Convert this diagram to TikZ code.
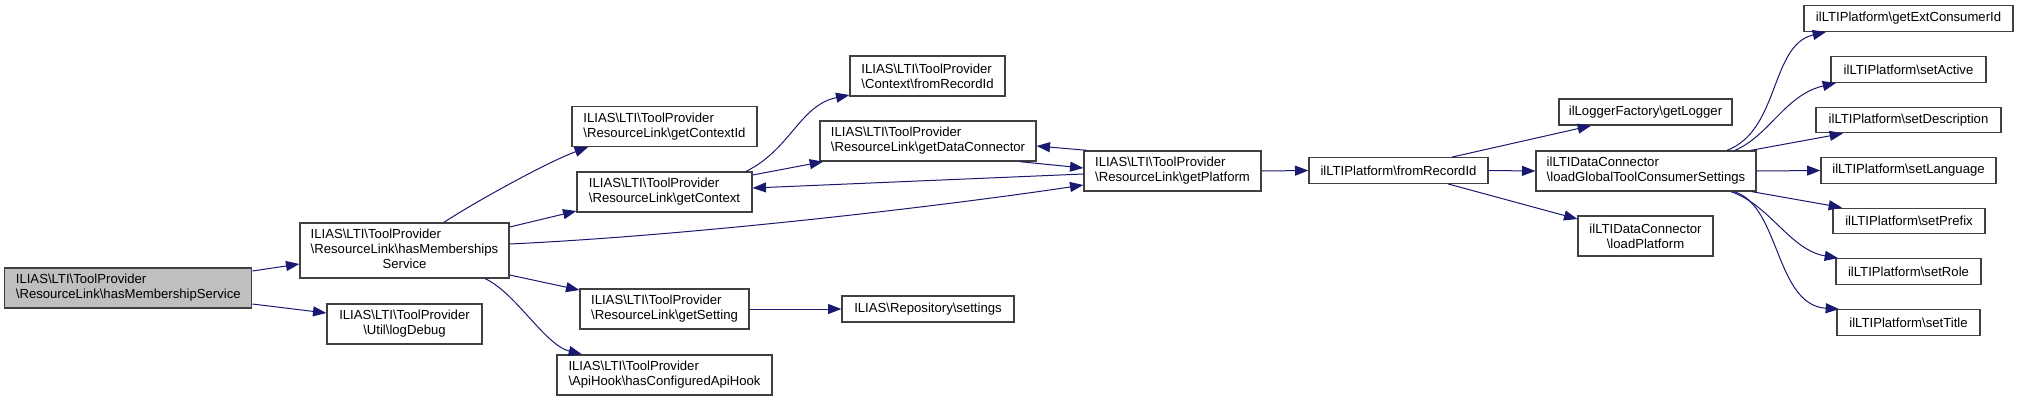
\documentclass[tikz,border=0pt]{standalone}
\usepackage{fontspec}
\setmainfont{Liberation Sans}
\usetikzlibrary{arrows.meta}
\newcommand{\bsl}{\textbackslash}
\definecolor{edgeblue}{HTML}{191970}
\definecolor{boxline}{HTML}{404040}
\definecolor{rootfill}{HTML}{BFBFBF}
\begin{document}
\begin{tikzpicture}[x=0.75pt,y=-0.75pt,
  box/.style={draw=boxline, line width=1pt, fill=white, rectangle, inner sep=0pt,
    font=\fontsize{9.85}{11.25}\selectfont, text=black},
  bw/.style={minimum width=#1*0.75pt},
  bh/.style={minimum height=#1*0.75pt},
  edge/.style={draw=edgeblue, line width=0.75pt, -{Triangle[length=10pt,width=7.5pt]}}]
\useasboundingbox (0,0) rectangle (2019,401);
\fill[white] (0,0) rectangle (2019,401);

% column 1
\node[box, fill=rootfill, bw=247, bh=40, align=left] (A) at (128.3,288)
  {ILIAS\bsl LTI\bsl ToolProvider\\\bsl ResourceLink\bsl hasMembershipService};
% column 2
\node[box, bw=209, bh=55] (B) at (404.5,250.5)
  {\begin{tabular}{@{}l@{}}ILIAS\bsl LTI\bsl ToolProvider\\\bsl ResourceLink\bsl hasMemberships\\\multicolumn{1}{@{}c@{}}{Service}\end{tabular}};
\node[box, bw=155, bh=40, align=center] (C) at (404.5,324)
  {ILIAS\bsl LTI\bsl ToolProvider\\\bsl Util\bsl logDebug};
% column 3
\node[box, bw=185, bh=40, align=left] (D) at (664.5,126.5)
  {ILIAS\bsl LTI\bsl ToolProvider\\\bsl ResourceLink\bsl getContextId};
\node[box, bw=175, bh=40, align=left] (E) at (664.5,192)
  {ILIAS\bsl LTI\bsl ToolProvider\\\bsl ResourceLink\bsl getContext};
\node[box, bw=169, bh=40, align=left] (F) at (664.5,309)
  {ILIAS\bsl LTI\bsl ToolProvider\\\bsl ResourceLink\bsl getSetting};
\node[box, bw=215, bh=40, align=left] (G) at (664.5,375)
  {ILIAS\bsl LTI\bsl ToolProvider\\\bsl ApiHook\bsl hasConfiguredApiHook};
% column 4
\node[box, bw=155, bh=40, align=left] (H) at (927.5,76)
  {ILIAS\bsl LTI\bsl ToolProvider\\\bsl Context\bsl fromRecordId};
\node[box, bw=216, bh=40, align=left] (I) at (928,141)
  {ILIAS\bsl LTI\bsl ToolProvider\\\bsl ResourceLink\bsl getDataConnector};
\node[box, bw=172, bh=26] (J) at (928,309)
  {ILIAS\bsl Repository\bsl settings};
% column 5
\node[box, bw=177, bh=40, align=left] (K) at (1172.5,171)
  {ILIAS\bsl LTI\bsl ToolProvider\\\bsl ResourceLink\bsl getPlatform};
% column 6
\node[box, bw=179, bh=25.5] (L) at (1398.5,170.5)
  {ilLTIPlatform\bsl fromRecordId};
% column 7
\node[box, bw=173, bh=26] (M) at (1645.5,112)
  {ilLoggerFactory\bsl getLogger};
\node[box, bw=220, bh=40, align=left] (N) at (1646,171)
  {ilLTIDataConnector\\\bsl loadGlobalToolConsumerSettings};
\node[box, bw=135, bh=40, align=center] (O) at (1645.5,236)
  {ilLTIDataConnector\\\bsl loadPlatform};
% column 8
\node[box, bw=209, bh=25.5] (P) at (1908.5,18.5) {ilLTIPlatform\bsl getExtConsumerId};
\node[box, bw=155, bh=25.5] (Q) at (1908.5,69.5) {ilLTIPlatform\bsl setActive};
\node[box, bw=185, bh=25.5] (R) at (1908.5,120) {ilLTIPlatform\bsl setDescription};
\node[box, bw=175, bh=25.5] (S) at (1908.5,170.5) {ilLTIPlatform\bsl setLanguage};
\node[box, bw=152, bh=25.5] (T) at (1909,221) {ilLTIPlatform\bsl setPrefix};
\node[box, bw=145, bh=25.5] (U) at (1908.5,271.5) {ilLTIPlatform\bsl setRole};
\node[box, bw=143, bh=25.5] (V) at (1908.5,322.5) {ilLTIPlatform\bsl setTitle};

% edges
\draw[edge] (A.east |- 0,271) -- (B.west |- 0,264);
\draw[edge] (A.east |- 0,304) -- (C.west |- 0,313);
\draw[edge] (B.north -| 444,0) .. controls (470,205) and (545,163) .. (D.south -| 588,0);
\draw[edge] (B.east |- 0,227) -- (E.west |- 0,211);
\draw[edge] (B.east |- 0,244) .. controls (700,235) and (950,205) .. (K.west |- 0,185);
\draw[edge] (B.east |- 0,275) -- (F.west |- 0,290);
\draw[edge] (B.south -| 485,0) .. controls (515,292) and (545,345) .. (G.north -| 582,0);
\draw[edge] (E.north -| 746,0) .. controls (790,150) and (800,105) .. (H.west |- 0,95);
\draw[edge] (E.east |- 0,175) -- (I.south -| 823,0);
\draw[edge] (K.north -| 1087,0) -- (I.east |- 0,146);
\draw[edge] (I.south -| 1020,0) -- (K.west |- 0,168);
\draw[edge] (K.west |- 0,174) -- (E.east |- 0,188);
\draw[edge] (F.east) -- (J.west);
\draw[edge] (K.east) -- (L.west);
\draw[edge] (L.north -| 1452,0) -- (M.south -| 1591,0);
\draw[edge] (L.east) -- (N.west);
\draw[edge] (L.south -| 1448,0) -- (O.west |- 0,219);
\draw[edge] (N.north -| 1727,0) .. controls (1780,130) and (1770,45) .. (P.south -| 1826,0);
\draw[edge] (N.north -| 1735,0) .. controls (1770,135) and (1785,95) .. (Q.south -| 1836,0);
\draw[edge] (N.north -| 1751,0) -- (R.south -| 1843,0);
\draw[edge] (N.east) -- (S.west);
\draw[edge] (N.south -| 1752,0) -- (T.north -| 1842,0);
\draw[edge] (N.south -| 1731,0) .. controls (1770,205) and (1790,250) .. (U.north -| 1838,0);
\draw[edge] (N.south -| 1734,0) .. controls (1780,205) and (1775,305) .. (V.north -| 1839,0);
\end{tikzpicture}
\end{document}
